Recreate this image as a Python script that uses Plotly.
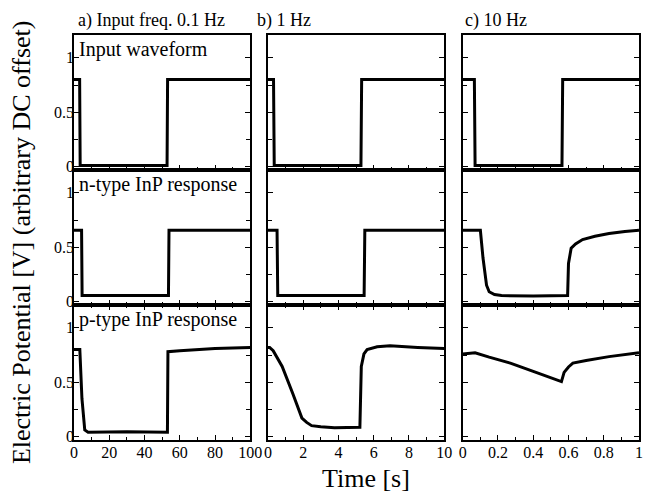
import plotly.graph_objects as go

# ---------------- data ----------------
# column a: 0.1 Hz, time 0-100 s
t_a_in = [0, 3.2, 3.5, 52.8, 53.1, 100]
v_a_in = [0.80, 0.80, 0.01, 0.01, 0.80, 0.80]
t_a_n = [0, 4.3, 4.6, 53.6, 53.9, 100]
v_a_n = [0.655, 0.655, 0.055, 0.055, 0.655, 0.655]
t_a_p = [0, 3.3, 4.5, 6.1, 8, 30, 53.0, 53.3, 60, 80, 100]
v_a_p = [0.80, 0.80, 0.35, 0.06, 0.04, 0.045, 0.04, 0.78, 0.79, 0.81, 0.82]

# column b: 1 Hz, time 0-10 s
t_b_in = [0, 0.32, 0.36, 5.28, 5.32, 10]
v_b_in = [0.80, 0.80, 0.01, 0.01, 0.80, 0.80]
t_b_n = [0, 0.52, 0.56, 5.46, 5.50, 10]
v_b_n = [0.655, 0.655, 0.055, 0.055, 0.655, 0.655]
t_b_p = [0, 0.1, 0.3, 0.81, 1.4, 1.93, 2.2, 2.48, 3.0, 3.78, 5.22, 5.26, 5.3, 5.45, 5.63, 6.2, 6.93, 8.5, 10]
v_b_p = [0.82, 0.82, 0.79, 0.645, 0.40, 0.17, 0.13, 0.10, 0.09, 0.08, 0.085, 0.45, 0.645, 0.76, 0.80, 0.825, 0.835, 0.82, 0.81]

# column c: 10 Hz, time 0-1 s
t_c_in = [0, 0.066, 0.070, 0.563, 0.567, 1]
v_c_in = [0.80, 0.80, 0.01, 0.01, 0.80, 0.80]
t_c_n = [0, 0.10, 0.115, 0.135, 0.15, 0.18, 0.22, 0.40, 0.595, 0.600, 0.615, 0.64, 0.68, 0.75, 0.83, 0.92, 1.0]
v_c_n = [0.655, 0.655, 0.40, 0.15, 0.09, 0.065, 0.055, 0.05, 0.055, 0.35, 0.49, 0.53, 0.57, 0.60, 0.625, 0.645, 0.655]
t_c_p = [0, 0.07, 0.15, 0.27, 0.40, 0.55, 0.56, 0.575, 0.60, 0.625, 0.70, 0.83, 0.92, 1.0]
v_c_p = [0.76, 0.77, 0.73, 0.675, 0.60, 0.515, 0.505, 0.59, 0.64, 0.675, 0.70, 0.735, 0.75, 0.77]

col_titles = ["a) Input freq. 0.1 Hz", "b) 1 Hz", "c) 10 Hz"]
row_labels = ["Input waveform", "n-type InP response", "p-type InP response"]
x_ranges = [[0, 100], [0, 10], [0, 1]]
x_ticks = [[0, 20, 40, 60, 80, 100], [0, 2, 4, 6, 8, 10], [0, 0.2, 0.4, 0.6, 0.8, 1]]
x_ticktext = [["0", "20", "40", "60", "80", "100"], ["0", "2", "4", "6", "8", "10"],
              ["0", "0.2", "0.4", "0.6", "0.8", "1"]]
x_dtick_minor = [10, 1, 0.1]
y_ticks = [0, 0.5, 1]
y_ticktext = ["0", "0.5", "1"]
y_range = [-0.032, 1.21]

series = [
    [(t_a_in, v_a_in), (t_b_in, v_b_in), (t_c_in, v_c_in)],
    [(t_a_n, v_a_n), (t_b_n, v_b_n), (t_c_n, v_c_n)],
    [(t_a_p, v_a_p), (t_b_p, v_b_p), (t_c_p, v_c_p)],
]

# ---------------- layout geometry ----------------
# the page places the figure 8px from the top-left corner (body margin)
OFF = 8
W, H = 663 - OFF, 493 - OFF
L, R, T, B = 74 - OFF, 12, 35 - OFF, 53
PW, PH = W - L - R, H - T - B
col_px = [(74, 254), (272, 452), (471, 651)]
row_px = [(35, 170), (170, 305), (305, 440)]
title_px = [76, 259, 471]

def px2x(px):
    return (px - OFF - L) / PW

def px2y(py):
    return (H - B - (py - OFF)) / PH

FONT = "Liberation Serif"

fig = go.Figure()
layout = {}
for r in range(3):
    for c in range(3):
        k = r * 3 + c + 1
        t, v = series[r][c]
        fig.add_trace(go.Scatter(
            x=t, y=v, mode="lines",
            line=dict(color="black", width=3),
            xaxis=f"x{k}", yaxis=f"y{k}", showlegend=False, hoverinfo="skip"))
        xname = "xaxis" if k == 1 else f"xaxis{k}"
        yname = "yaxis" if k == 1 else f"yaxis{k}"
        layout[xname] = dict(
            domain=[px2x(col_px[c][0]), px2x(col_px[c][1])],
            range=x_ranges[c], anchor=f"y{k}",
            tickmode="array", tickvals=x_ticks[c], ticktext=x_ticktext[c],
            showticklabels=(r == 2),
            ticks="inside", ticklen=5, tickwidth=1.3, tickcolor="black",
            ticklabelstandoff=-3,
            minor=dict(ticks="inside", ticklen=3, tickwidth=1.2, tickcolor="black",
                       dtick=x_dtick_minor[c], tick0=0),
            showline=True, linecolor="black", linewidth=1.6,
            mirror="ticks" if r == 2 else True,
            showgrid=False, zeroline=False,
            tickfont=dict(family=FONT, size=16, color="black"))
        layout[yname] = dict(
            domain=[px2y(row_px[r][1]), px2y(row_px[r][0])],
            range=y_range, anchor=f"x{k}",
            tickmode="array", tickvals=y_ticks, ticktext=y_ticktext,
            showticklabels=(c == 0),
            ticks="inside", ticklen=5, tickwidth=1.3, tickcolor="black",
            ticklabelstandoff=-5,
            minor=dict(ticks="inside", ticklen=4, tickwidth=1.2, tickcolor="black",
                       dtick=0.25, tick0=0),
            showline=True, linecolor="black", linewidth=1.6, mirror="ticks",
            showgrid=False, zeroline=False,
            tickfont=dict(family=FONT, size=16, color="black"))

annotations = []
for c in range(3):
    annotations.append(dict(
        text=col_titles[c], x=px2x(title_px[c]), y=px2y(33),
        xref="paper", yref="paper", xanchor="left", yanchor="bottom",
        showarrow=False, font=dict(family=FONT, size=18, color="black")))
for r in range(3):
    annotations.append(dict(
        text=row_labels[r], x=px2x(77), y=px2y(row_px[r][0] + 1),
        xref="paper", yref="paper", xanchor="left", yanchor="top",
        showarrow=False, font=dict(family=FONT, size=20, color="black")))
annotations.append(dict(
    text="Electric Potential [V] (arbitrary DC offset)", x=px2x(21), y=px2y(242),
    xref="paper", yref="paper", xanchor="center", yanchor="middle", textangle=-90,
    showarrow=False, font=dict(family=FONT, size=26, color="black")))
annotations.append(dict(
    text="Time [s]", x=px2x(372), y=px2y(478),
    xref="paper", yref="paper", xanchor="center", yanchor="middle",
    showarrow=False, font=dict(family=FONT, size=26, color="black")))

fig.update_layout(
    width=W, height=H,
    margin=dict(l=L, r=R, t=T, b=B),
    paper_bgcolor="white", plot_bgcolor="white",
    font=dict(family=FONT, size=16, color="black"),
    annotations=annotations,
    **layout)

fig.write_html("out.html")
